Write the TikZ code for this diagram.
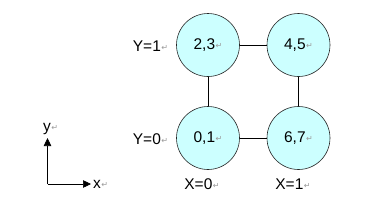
\documentclass[tikz,border=0pt]{standalone}
\usepackage{fontspec}
\setmainfont{Liberation Sans}
\newfontfamily\symfont{DejaVu Sans}
\usepackage{xcolor}
\usetikzlibrary{arrows.meta, positioning}

\definecolor{cellfill}{HTML}{CCFFFF}
\newcommand{\retmark}{\kern0.5pt\raisebox{1pt}{\symfont\fontsize{8}{8}\selectfont\color{gray!80}↵}}

\begin{document}
\begin{tikzpicture}[x=1pt, y=-1pt,
    % ── cells ──
    cell/.style     = {circle, draw=black!85, fill=cellfill, line width=0.6pt,
                       minimum size=63pt, inner sep=0pt},
    % ── lines ──
    link/.style     = {draw=black, line width=0.6pt},
    arr/.style      = {-{Triangle[length=8pt, width=7.5pt]}, line width=0.6pt},
    % ── text styles ──
    mainLabel/.style= {font=\fontsize{15.5}{17}\selectfont, inner sep=0pt},
]

\useasboundingbox (0,0) rectangle (365,214);

\def\colA{208}   % x of column X=0
\def\colB{298.5} % x of column X=1
\def\rowA{45}    % y of row Y=1
\def\rowB{138}   % y of row Y=0

% =====================================================================
% Cells
% =====================================================================
\node[cell, mainLabel] (c23) at (\colA,\rowA) {2,3\retmark};
\node[cell, mainLabel] (c45) at (\colB,\rowA) {4,5\retmark};
\node[cell, mainLabel] (c01) at (\colA,\rowB) {0,1\retmark};
\node[cell, mainLabel] (c67) at (\colB,\rowB) {6,7\retmark};

% links
\draw[link] (c23) -- (c45);
\draw[link] (c23) -- (c01);
\draw[link] (c45) -- (c67);
\draw[link] (c01) -- (c67);

% =====================================================================
% Row / column labels
% =====================================================================
\node[mainLabel] (yone)  at (150.5,46.5) {Y=1\retmark};
\node[mainLabel] (yzero) at (150.5,139.5) {Y=0\retmark};
\node[mainLabel] (xzero) at (202,184)   {X=0\retmark};
\node[mainLabel] (xone)  at (293,184)   {X=1\retmark};

% =====================================================================
% Axes
% =====================================================================
\coordinate (orig) at (47.5,184);
\coordinate (xend) at (91,184);
\coordinate (yend) at (47.5,138);
\draw[arr] (orig) -- (xend);
\draw[arr] (orig) -- (yend);
\node[mainLabel, right=2pt of xend] (xlab) {x\retmark};
\node[mainLabel, above=3pt of yend, xshift=3pt] (ylab) {y\retmark};

\end{tikzpicture}
\end{document}
